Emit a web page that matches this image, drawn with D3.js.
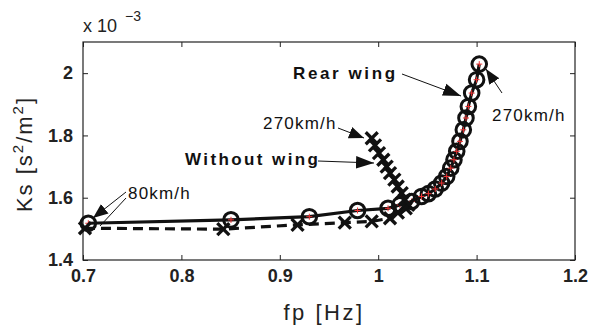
<!DOCTYPE html>
<html><head><meta charset="utf-8">
<script src="https://cdn.jsdelivr.net/npm/d3@7"></script>
<style>body{margin:0;background:#fff}svg{display:block}</style>
</head><body>
<svg id="c" width="590" height="329"></svg>
<script>
// Rear wing (circles, solid line), 80 -> 270 km/h
const rearFp = [0.7054,0.8504,0.930,0.979,1.010,1.022,1.034,1.044,1.051,1.058,1.0645,1.0696,1.0737,1.077,1.0798,1.0831,1.0865,1.0892,1.0916,1.095,1.100,1.1027];
const rearKs = [1.518,1.529,1.539,1.559,1.566,1.577,1.588,1.604,1.613,1.628,1.647,1.668,1.695,1.722,1.749,1.781,1.818,1.856,1.893,1.936,1.979,2.029];
// Without wing (x marks, dashed line)
const noFp = [0.702,0.8426,0.918,0.966,0.9934,1.012,1.020,1.028,1.0306,1.027,1.0239,1.0198,1.0164,1.012,1.0086,1.0052,1.0008,0.9967,0.9934];
const noKs = [1.502,1.499,1.513,1.520,1.524,1.534,1.552,1.566,1.577,1.594,1.615,1.636,1.658,1.679,1.700,1.722,1.743,1.768,1.791];
const xTicks = [0.7,0.8,0.9,1.0,1.1,1.2];
const xTickLabels = ["0.7","0.8","0.9","1","1.1","1.2"];
const yTicks = [1.4,1.6,1.8,2.0];
const yTickLabels = ["1.4","1.6","1.8","2"];

const svg = d3.select("#c");
const L=83,R=575,T=42,B=260;
const x = d3.scaleLinear().domain([0.7,1.2]).range([L,R]);
const y = d3.scaleLinear().domain([1.4,2.1]).range([B,T]);
const font = "'Liberation Sans', Arial, sans-serif";

// frame
svg.append("rect").attr("x",L).attr("y",T).attr("width",R-L).attr("height",B-T)
  .attr("fill","none").attr("stroke","#222").attr("stroke-width",1.2);

// axes (inward ticks)
const gx = svg.append("g").attr("transform",`translate(0,${B})`)
  .call(d3.axisBottom(x).tickValues(xTicks).tickSize(-5).tickPadding(9).tickFormat((d,i)=>xTickLabels[i]));
const gxt = svg.append("g").attr("transform",`translate(0,${T})`)
  .call(d3.axisTop(x).tickValues(xTicks).tickSize(-5).tickFormat(""));
const gy = svg.append("g").attr("transform",`translate(${L},0)`)
  .call(d3.axisLeft(y).tickValues(yTicks).tickSize(-5).tickPadding(10).tickFormat((d,i)=>yTickLabels[i]));
const gyr = svg.append("g").attr("transform",`translate(${R},0)`)
  .call(d3.axisRight(y).tickValues(yTicks).tickSize(-5).tickFormat(""));
[gx,gxt,gy,gyr].forEach(g=>{
  g.select(".domain").remove();
  g.selectAll(".tick line").attr("stroke","#222").attr("stroke-width",1);
  g.selectAll("text").attr("font-family",font).attr("font-size",18).attr("font-weight","bold").attr("fill","#222");
});

// exponent
const ex = svg.append("text").attr("x",83).attr("y",32).attr("font-family",font).attr("font-size",18).attr("fill","#222");
ex.append("tspan").text("x 10");
ex.append("tspan").attr("dx",8).attr("dy",-11).attr("font-size",14).text("\u22123");

// axis labels
svg.append("text").attr("x",324).attr("y",320).attr("text-anchor","middle")
  .attr("font-family",font).attr("font-size",22).attr("letter-spacing",2.5).attr("fill","#222").text("fp [Hz]");
const yl = svg.append("text").attr("transform","translate(32,154) rotate(-90)").attr("text-anchor","middle")
  .attr("font-family",font).attr("font-size",22).attr("letter-spacing",2).attr("fill","#222");
yl.append("tspan").text("Ks [s");
yl.append("tspan").attr("dy",-9).attr("font-size",15).text("2");
yl.append("tspan").attr("dy",9).text("/m");
yl.append("tspan").attr("dy",-9).attr("font-size",15).text("2");
yl.append("tspan").attr("dy",9).text("]");

// lines
const rear = rearFp.map((f,i)=>[f,rearKs[i]]);
const none = noFp.map((f,i)=>[f,noKs[i]]);
const line = d3.line().x(d=>x(d[0])).y(d=>y(d[1]));
svg.append("path").attr("d",line(rear)).attr("fill","none").attr("stroke","#111").attr("stroke-width",3.2);
svg.append("g").selectAll("circle").data(rear).join("circle")
  .attr("cx",d=>x(d[0])).attr("cy",d=>y(d[1])).attr("r",7.3)
  .attr("fill","none").attr("stroke","#111").attr("stroke-width",3);
const plus = svg.append("g").attr("stroke","#e33").attr("stroke-width",1);
rear.forEach(d=>{
  const cx=x(d[0]),cy=y(d[1]);
  plus.append("line").attr("x1",cx-3).attr("x2",cx+3).attr("y1",cy).attr("y2",cy);
  plus.append("line").attr("x1",cx).attr("x2",cx).attr("y1",cy-3).attr("y2",cy+3);
});

svg.append("path").attr("d",line(none)).attr("fill","none").attr("stroke","#111").attr("stroke-width",3.2).attr("stroke-dasharray","10,6");
const xm = svg.append("g").attr("stroke","#111").attr("stroke-width",3.3);
none.forEach(d=>{
  const cx=x(d[0]),cy=y(d[1]),s=6;
  xm.append("line").attr("x1",cx-s).attr("x2",cx+s).attr("y1",cy-s).attr("y2",cy+s);
  xm.append("line").attr("x1",cx-s).attr("x2",cx+s).attr("y1",cy+s).attr("y2",cy-s);
});

// annotations
const defs = svg.append("defs");
defs.append("marker").attr("id","ah").attr("viewBox","0 0 10 10").attr("refX",10).attr("refY",5)
  .attr("markerWidth",15).attr("markerHeight",15).attr("markerUnits","userSpaceOnUse").attr("orient","auto")
  .append("path").attr("d","M0,1 L10,5 L0,9 Z").attr("fill","#111");
defs.append("marker").attr("id","ahb").attr("viewBox","0 0 10 10").attr("refX",10).attr("refY",5)
  .attr("markerWidth",18).attr("markerHeight",18).attr("markerUnits","userSpaceOnUse").attr("orient","auto")
  .append("path").attr("d","M0,1.5 L10,5 L0,8.5 Z").attr("fill","#111");
function arrow(x1,y1,x2,y2,m){
  const p = svg.append("line").attr("x1",x1).attr("y1",y1).attr("x2",x2).attr("y2",y2)
    .attr("stroke","#111").attr("stroke-width",1);
  if(m) p.attr("marker-end",`url(#${m})`);
}
function label(t,xx,yy,opt={}){
  svg.append("text").attr("x",xx).attr("y",yy).attr("font-family",opt.f||font)
    .attr("font-size",opt.s||17).attr("font-weight",opt.w||"normal").attr("letter-spacing",opt.ls||0)
    .attr("fill","#111").text(t);
}
label("80km/h",128,199,{ls:1.2});
arrow(126,192,93,218,"ah");
arrow(126,198,100,226,null);
label("270km/h",263,129,{ls:1.2});
arrow(338,128,364,138,"ah");
label("Without wing",185,165,{w:"bold",ls:2.4});
arrow(318,161,374,163,"ahb");
label("Rear wing",293,79,{w:"bold",ls:2.6});
arrow(402,74,461,96,"ahb");
label("270km/h",492,121,{ls:1.2});
arrow(502,93,486,69,"ah");
</script>
</body></html>
